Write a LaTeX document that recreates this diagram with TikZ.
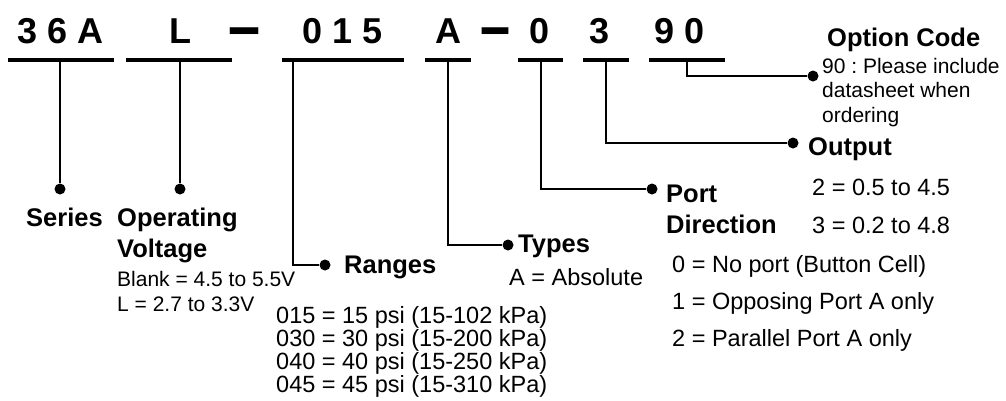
\documentclass[tikz,border=0pt]{standalone}
\usepackage{fontspec}
\usepackage{graphicx}
\setmainfont{Liberation Sans}
\frenchspacing
\begin{document}
\begin{tikzpicture}[x=1pt,y=-1pt,
  code/.style={font=\fontsize{36}{36}\selectfont\bfseries, anchor=base, inner sep=0},
  uline/.style={line width=4pt},
  conn/.style={line width=1.3pt},
  dot/.style={circle, fill=black, inner sep=0, minimum size=11pt},
  lbl/.style={font=\fontsize{25.5}{30}\selectfont\bfseries, anchor=base west, inner sep=0},
  txt/.style={font=\fontsize{23.5}{28}\selectfont, anchor=base west, inner sep=0},
  small/.style={font=\fontsize{21}{24}\selectfont, anchor=base west, inner sep=0}]
\useasboundingbox (0,0) rectangle (1006,400);

% code characters
\node[code] (c1) at (61,43) {3 6 A};
\node[code] (c2) at (180,43) {L};
\node[code, inner sep=2pt] (c3) at (245,49.5) {\scalebox{1.6}[1.9]{–}};
\node[code] (c4) at (343,43) {0 1 5};
\node[code] (c5) at (448,43) {A};
\node[code, inner sep=2pt] (c6) at (496,49.5) {\scalebox{1.5}[1.9]{–}};
\node[code] (c7) at (540,43) {0};
\node[code] (c8) at (600,43) {3};
\node[code] (c9) at (680,43) {9 0};

% underlines
\coordinate (u1a) at (8,60);   \coordinate (u1b) at (114,60);
\coordinate (u2a) at (126,60); \coordinate (u2b) at (232,60);
\coordinate (u3a) at (282,60); \coordinate (u3b) at (404,60);
\coordinate (u4a) at (425,60); \coordinate (u4b) at (471,60);
\coordinate (u5a) at (518,60); \coordinate (u5b) at (563,60);
\coordinate (u6a) at (583,60); \coordinate (u6b) at (629,60);
\coordinate (u7a) at (649,60); \coordinate (u7b) at (725,60);
\foreach \i in {1,...,7} {\draw[uline] (u\i a) -- (u\i b);}

% connector starts
\coordinate (s1) at (60,62);
\coordinate (s2) at (180,62);
\coordinate (s3) at (293,62);
\coordinate (s4) at (448,62);
\coordinate (s5) at (541,62);
\coordinate (s6) at (606,62);
\coordinate (s7) at (687,62);

% dots
\node[dot] (d1) at (60,189) {};
\node[dot] (d2) at (180,189) {};
\node[dot] (d3) at (325,265) {};
\node[dot] (d4) at (508,245) {};
\node[dot] (d5) at (652,189) {};
\node[dot] (d6) at (793,143) {};
\node[dot] (d7) at (813,76) {};

\draw[conn] (s1) -- (d1);
\draw[conn] (s2) -- (d2);
\draw[conn] (s3) |- (d3);
\draw[conn] (s4) |- (d4);
\draw[conn] (s5) |- (d5);
\draw[conn] (s6) |- (d6);
\draw[conn] (s7) |- (d7);

% labels
\node[lbl] (series) at (26,226) {Series};
\node[lbl] (volt1) at (117,226) {Operating};
\node[lbl] (volt2) at (117,257) {Voltage};
\node[small] (volt3) at (117,286) {Blank = 4.5 to 5.5V};
\node[small] (volt4) at (117,311) {L = 2.7 to 3.3V};

\node[lbl] (ranges) at (344,273) {Ranges};
\node[txt] (r1) at (276,323) {015 = 15 psi (15-102 kPa)};
\node[txt] (r2) at (276,346) {030 = 30 psi (15-200 kPa)};
\node[txt] (r3) at (276,369) {040 = 40 psi (15-250 kPa)};
\node[txt] (r4) at (276,392) {045 = 45 psi (15-310 kPa)};

\node[lbl] (types) at (518,252) {Types};
\node[txt] (t1) at (509,285) {A = Absolute};

\node[lbl] (port1) at (666,202) {Port};
\node[lbl] (port2) at (666,233) {Direction};
\node[txt] (p1) at (672,272) {0 = No port (Button Cell)};
\node[txt] (p2) at (672,309) {1 = Opposing Port A only};
\node[txt] (p3) at (672,346) {2 = Parallel Port A only};

\node[lbl] (output) at (808,155) {Output};
\node[txt] (o1) at (812,195) {2 = 0.5 to 4.5};
\node[txt] (o2) at (812,233) {3 = 0.2 to 4.8};

\node[lbl] (option) at (827,46) {Option Code};
\node[small] (op1) at (822,73) {90 : Please include};
\node[small] (op2) at (822,97.5) {datasheet when};
\node[small] (op3) at (822,122) {ordering};
\end{tikzpicture}
\end{document}
